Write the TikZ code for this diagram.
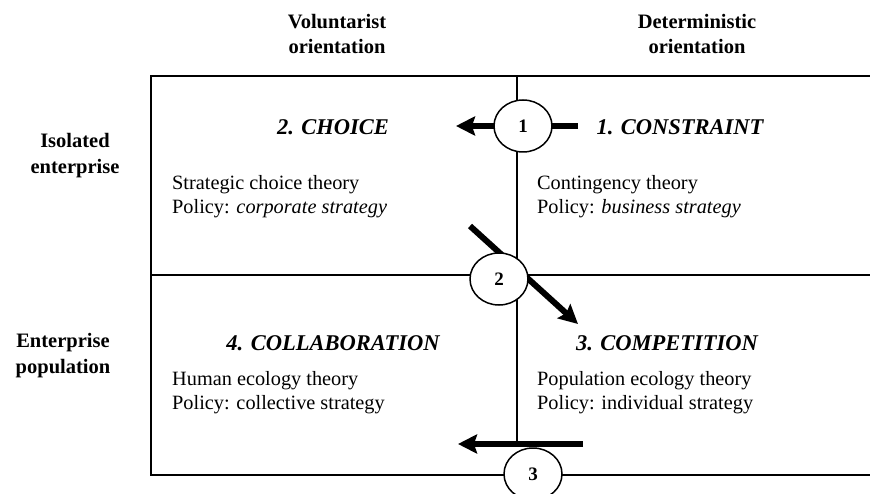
\documentclass[tikz,border=0pt]{standalone}
\usepackage{fontspec}
\setmainfont{Liberation Serif}
\usetikzlibrary{shapes.geometric,arrows.meta}
\begin{document}
\begin{tikzpicture}[x=1pt,y=-1pt,
  frame/.style={line width=1.6pt},
  bigarrow/.style={line width=6pt,-{Stealth[length=19pt,width=19pt,inset=3pt]}},
  numcircle/.style={ellipse,draw,line width=1.5pt,fill=white,minimum width=58pt,minimum height=52pt,inner sep=0pt,font=\fontsize{19}{21}\selectfont\bfseries},
  head/.style={font=\fontsize{20.5}{24}\selectfont\bfseries,anchor=base,inner sep=0pt},
  title/.style={font=\fontsize{22.5}{26}\selectfont\bfseries\itshape,anchor=base,inner sep=0pt},
  body/.style={font=\fontsize{20.3}{24}\selectfont,anchor=base west,inner sep=0pt}]
\useasboundingbox (0,0) rectangle (870,494);
\clip (0,0) rectangle (870,494);
% column headers
\node[head] (h1a) at (337,29) {Voluntarist};
\node[head] (h1b) at (337,54) {orientation};
\node[head] (h2a) at (697,29) {Deterministic};
\node[head] (h2b) at (697,54) {orientation};
% row headers
\node[head] (r1a) at (75,148) {Isolated};
\node[head] (r1b) at (75,174) {enterprise};
\node[head] (r2a) at (63,347) {Enterprise};
\node[head] (r2b) at (63,373) {population};
% frame
\coordinate (tl) at (151,76);
\coordinate (tr) at (872,76);
\coordinate (ml) at (151,275);
\coordinate (mr) at (872,275);
\coordinate (bl) at (151,475);
\coordinate (br) at (872,475);
\coordinate (vt) at (517,76);
\coordinate (vb) at (517,444);
\draw[frame] (tr) -- (tl) -- (bl) -- (br);
\draw[frame] (ml) -- (mr);
\draw[frame] (vt) -- (vb);
% quadrant texts
\node[title] (q2) at (333,135) {2. CHOICE};
\node[body] (q2a) at (172,190) {Strategic choice theory};
\node[body] (q2b) at (172,214) {Policy: \textit{corporate strategy}};
\node[title] (q1) at (680,135) {1. CONSTRAINT};
\node[body] (q1a) at (537,190) {Contingency theory};
\node[body] (q1b) at (537,214) {Policy: \textit{business strategy}};
\node[title] (q4) at (333,350) {4. COLLABORATION};
\node[body] (q4a) at (172,385) {Human ecology theory};
\node[body] (q4b) at (172,409) {Policy: collective strategy};
\node[title] (q3) at (667,350) {3. COMPETITION};
\node[body] (q3a) at (537,385) {Population ecology theory};
\node[body] (q3b) at (537,409) {Policy: individual strategy};
% arrows
\coordinate (a1s) at (578,126);
\coordinate (a1e) at (456,126);
\coordinate (a2s) at (470,226);
\coordinate (a2e) at (578,324);
\coordinate (a3s) at (583,444);
\coordinate (a3e) at (458,444);
\draw[bigarrow] (a1s) -- (a1e);
\draw[bigarrow] (a2s) -- (a2e);
\draw[bigarrow] (a3s) -- (a3e);
% circles
\node[numcircle] (c1) at (523,126) {1};
\node[numcircle] (c2) at (499,279) {2};
\node[numcircle] (c3) at (533,474) {3};
\end{tikzpicture}
\end{document}
